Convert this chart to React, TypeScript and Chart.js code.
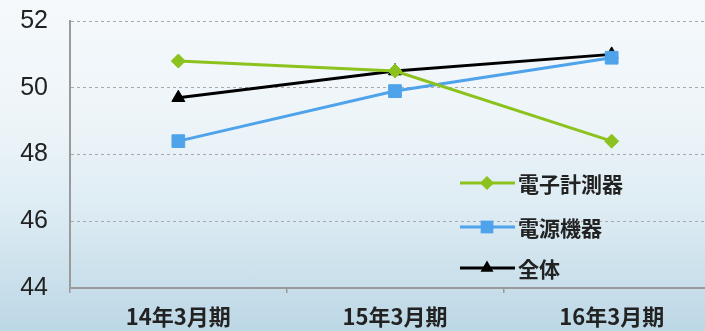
import React, { useEffect, useRef } from "react";
import { Chart, registerables } from "chart.js";

Chart.register(...registerables);

const categories = ["14年3月期", "15年3月期", "16年3月期"];
const seriesNames = ["電子計測器", "電源機器", "全体"];
const denshiKeisokuki = [50.8, 50.5, 48.4];
const dengenKiki = [48.4, 49.9, 50.9];
const zentai = [49.7, 50.5, 51.0];
const yTicks = [44, 46, 48, 50, 52];

const GREEN = "#8cc21e";
const BLUE = "#4ea3ea";
const BLACK = "#000000";
const FONT = "'Noto Sans CJK JP', 'Noto Sans', sans-serif";

function drawMarker(ctx: CanvasRenderingContext2D, style: string, r: number, x: number, y: number) {
  ctx.beginPath();
  if (style === "rectRot") {
    ctx.moveTo(x, y - r);
    ctx.lineTo(x + r, y);
    ctx.lineTo(x, y + r);
    ctx.lineTo(x - r, y);
  } else if (style === "rect") {
    const s = Math.SQRT1_2 * r;
    ctx.rect(x - s, y - s, 2 * s, 2 * s);
  } else {
    const a = (2 * Math.PI) / 3;
    ctx.moveTo(x, y - r);
    ctx.lineTo(x + Math.sin(a) * r, y - Math.cos(a) * r);
    ctx.lineTo(x + Math.sin(2 * a) * r, y - Math.cos(2 * a) * r);
  }
  ctx.closePath();
  ctx.fill();
}

const legendPlugin = {
  id: "insideLegend",
  afterDraw(chart: any) {
    const { ctx, chartArea } = chart;
    const x0 = chartArea.left + 390;
    const rows = [162, 206, 247];
    ctx.save();
    chart.data.datasets.forEach((ds: any, i: number) => {
      const y = chartArea.top + rows[i];
      ctx.strokeStyle = ds.borderColor;
      ctx.lineWidth = 3;
      ctx.beginPath();
      ctx.moveTo(x0, y);
      ctx.lineTo(x0 + 55, y);
      ctx.stroke();
      ctx.fillStyle = ds.borderColor;
      drawMarker(ctx, ds.pointStyle, ds.pointRadius, x0 + 27, y);
      ctx.fillStyle = "#222";
      ctx.font = `bold 21px ${FONT}`;
      ctx.textBaseline = "middle";
      ctx.textAlign = "left";
      ctx.fillText(ds.label, x0 + 58, y + 1);
    });
    ctx.restore();
  },
};

export default function App() {
  const ref = useRef<HTMLCanvasElement | null>(null);

  useEffect(() => {
    if (!ref.current) return;
    const chart = new Chart(ref.current, {
      type: "line",
      data: {
        labels: categories,
        datasets: [
          {
            label: seriesNames[0],
            data: denshiKeisokuki,
            borderColor: GREEN,
            backgroundColor: GREEN,
            borderWidth: 3,
            pointStyle: "rectRot",
            pointRadius: 7,
            pointBorderWidth: 1,
          },
          {
            label: seriesNames[1],
            data: dengenKiki,
            borderColor: BLUE,
            backgroundColor: BLUE,
            borderWidth: 3,
            pointStyle: "rect",
            pointRadius: 9,
            pointBorderWidth: 1,
          },
          {
            label: seriesNames[2],
            data: zentai,
            borderColor: BLACK,
            backgroundColor: BLACK,
            borderWidth: 3,
            pointStyle: "triangle",
            pointRadius: 7.5,
            pointBorderWidth: 1,
          },
        ],
      },
      options: {
        animation: false,
        responsive: false,
        maintainAspectRatio: false,
        layout: { padding: { top: 21, right: 5, left: 0, bottom: 0 } },
        plugins: {
          legend: { display: false },
          tooltip: { enabled: false },
        },
        scales: {
          x: {
            offset: true,
            grid: {
              offset: true,
              drawOnChartArea: false,
              drawTicks: true,
              tickLength: 5,
              color: "#9a9a9a",
              lineWidth: 1.5,
            },
            border: { display: true, color: "#9a9a9a", width: 2 },
            ticks: {
              color: "#222",
              font: { family: FONT, size: 22, weight: "bold" },
              padding: 10,
            },
            afterFit(scale: any) {
              scale.height = 43;
              scale.paddingLeft = 0;
              scale.paddingRight = 0;
            },
          },
          y: {
            min: 44,
            max: 52,
            afterBuildTicks(scale: any) {
              scale.ticks = yTicks.map((v) => ({ value: v }));
            },
            grid: {
              drawTicks: false,
              color: "#a8a8a8",
              lineWidth: 1,
            },
            border: { display: true, color: "#9a9a9a", width: 2, dash: [3, 3] },
            ticks: {
              color: "#222",
              font: { family: "'Liberation Sans', Arial, sans-serif", size: 25 },
              padding: 22,
            },
            afterFit(scale: any) {
              scale.width = 70;
              scale.paddingTop = 0;
              scale.paddingBottom = 0;
            },
          },
        },
      },
      plugins: [legendPlugin],
    } as any);
    return () => chart.destroy();
  }, []);

  return (
    <div
      style={{
        position: "absolute",
        left: 0,
        top: 0,
        width: 705,
        height: 331,
        overflow: "hidden",
        background:
          "linear-gradient(180deg, #f5f9fc 0%, #eef5f9 35%, #dcebf3 65%, #bcd7e5 100%)",
      }}
    >
      <canvas ref={ref} width={730} height={331} style={{ display: "block" }} />
    </div>
  );
}
